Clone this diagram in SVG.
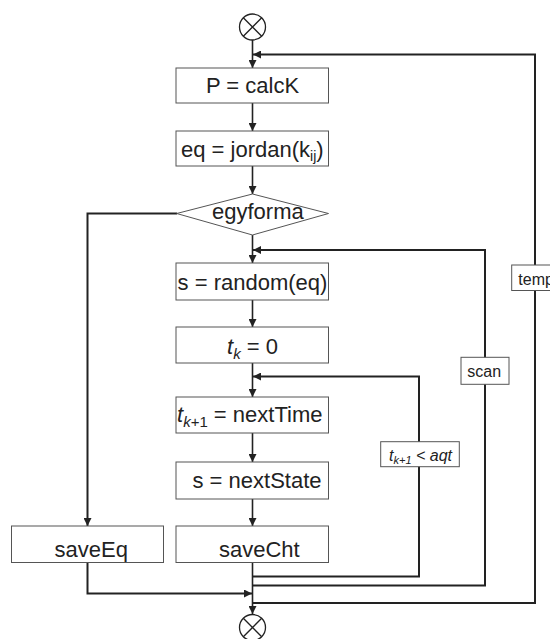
<svg xmlns="http://www.w3.org/2000/svg" width="550" height="639" viewBox="0 0 550 639">
<defs>
<style>
.box{fill:#fff;stroke:#555;stroke-width:1}
.lbl{fill:#fff;stroke:#555;stroke-width:1}
.ln{fill:none;stroke:#222;stroke-width:1.6}
.lp{fill:none;stroke:#222;stroke-width:2}
.t{font-family:"Liberation Sans",Arial,sans-serif;font-size:22px;fill:#222}
.s{font-family:"Liberation Sans",Arial,sans-serif;font-size:16px;fill:#222}
.term{fill:#fff;stroke:#222;stroke-width:1.3}
</style>
<marker id="ah" viewBox="0 0 8 8" refX="8" refY="4" markerWidth="8" markerHeight="8" markerUnits="userSpaceOnUse" orient="auto">
<path d="M0,0 L8,4 L0,8 Z" fill="#222"/>
</marker>
</defs>

<g id="connectors">
<path class="ln" d="M252.5,40 V68" marker-end="url(#ah)"/>
<path class="ln" d="M252.5,103 V131" marker-end="url(#ah)"/>
<path class="ln" d="M252.5,166 V194" marker-end="url(#ah)"/>
<path class="ln" d="M252.5,235 V263" marker-end="url(#ah)"/>
<path class="ln" d="M252.5,300 V327" marker-end="url(#ah)"/>
<path class="ln" d="M252.5,363 V397" marker-end="url(#ah)"/>
<path class="ln" d="M252.5,433 V462" marker-end="url(#ah)"/>
<path class="ln" d="M252.5,499 V526" marker-end="url(#ah)"/>
<path class="ln" d="M252.5,562 V614" marker-end="url(#ah)"/>
<path class="lp" d="M177,213.5 H87.5 V526" marker-end="url(#ah)"/>
<path class="lp" d="M87.5,562 V593.5 H252" marker-end="url(#ah)"/>
<path class="lp" d="M252.5,576.5 H419 V376.5 H253" marker-end="url(#ah)"/>
<path class="lp" d="M252.5,585.5 H485 V250 H253" marker-end="url(#ah)"/>
<path class="lp" d="M252.5,603 H535 V54.5 H253" marker-end="url(#ah)"/>
</g>

<g id="start">
<circle class="term" cx="252.5" cy="27" r="13"/>
<path d="M243.3,17.8 L261.7,36.2 M261.7,17.8 L243.3,36.2" stroke="#222" stroke-width="1.3"/>
</g>

<g id="calcK">
<rect class="box" x="176" y="68" width="152.5" height="35"/>
<text class="t" x="252.5" y="93" text-anchor="middle">P = calcK</text>
</g>

<g id="jordan">
<rect class="box" x="176" y="131" width="152.5" height="35"/>
<text class="t" x="181" y="157">eq = jordan(k<tspan font-size="14" dy="4">ij</tspan><tspan dy="-4">)</tspan></text>
</g>

<g id="egyforma">
<polygon class="box" points="252.5,194 328.5,213.5 252.5,235 176.7,213.5"/>
<text class="t" x="212" y="219">egyforma</text>
</g>

<g id="random">
<rect class="box" x="176" y="263" width="152.5" height="37"/>
<text class="t" x="252.5" y="289.5" text-anchor="middle">s = random(eq)</text>
</g>

<g id="tk0">
<rect class="box" x="176" y="327" width="152.5" height="36"/>
<text class="t" x="252.5" y="353.5" text-anchor="middle"><tspan font-style="italic">t</tspan><tspan font-style="italic" font-size="15" dy="5">k</tspan><tspan dy="-5"> = 0</tspan></text>
</g>

<g id="nextTime">
<rect class="box" x="176" y="397" width="152.5" height="36"/>
<text class="t" x="177" y="422"><tspan font-style="italic">t</tspan><tspan font-size="15" dy="5"><tspan font-style="italic">k</tspan>+1</tspan><tspan dy="-5"> = nextTime</tspan></text>
</g>

<g id="nextState">
<rect class="box" x="176" y="462" width="152.5" height="37"/>
<text class="t" x="192.5" y="488">s = nextState</text>
</g>

<g id="saveEq">
<rect class="box" x="11.5" y="526" width="152" height="36.5"/>
<text class="t" x="54.5" y="556.5">saveEq</text>
</g>

<g id="saveCht">
<rect class="box" x="176" y="526" width="152.5" height="36.5"/>
<text class="t" x="219" y="556.5">saveCht</text>
</g>

<g id="label-aqt">
<rect class="lbl" x="380.7" y="441.7" width="78.6" height="25"/>
<text class="s" x="389" y="461" font-style="italic">t<tspan font-size="11" dy="3">k+1</tspan><tspan dy="-3"> &lt; aqt</tspan></text>
</g>

<g id="label-scan">
<rect class="lbl" x="461" y="357.3" width="48" height="27"/>
<text class="s" x="467.3" y="376.5">scan</text>
</g>

<g id="label-temp">
<rect class="lbl" x="511.7" y="265" width="46" height="25.5"/>
<text class="s" x="518.3" y="284.5">temp</text>
</g>

<g id="end">
<circle class="term" cx="252.5" cy="627.5" r="13"/>
<path d="M243.3,618.3 L261.7,636.7 M261.7,618.3 L243.3,636.7" stroke="#222" stroke-width="1.3"/>
</g>
</svg>
